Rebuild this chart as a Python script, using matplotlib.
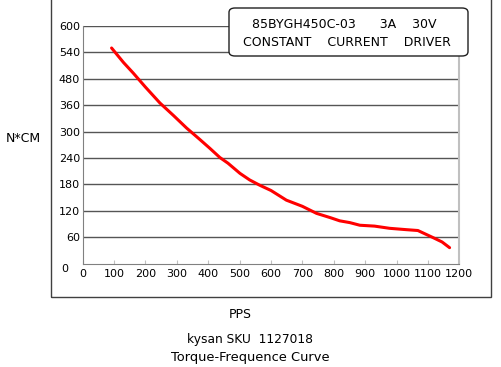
import matplotlib
matplotlib.use("Agg")
import matplotlib.pyplot as plt
from matplotlib.patches import Rectangle, FancyBboxPatch
from matplotlib.transforms import ScaledTranslation

# torque curve (in axis units, 60 per grid step)
pps = [92, 130, 161, 200, 246, 290, 331, 370, 405, 437, 463, 501, 532, 564,
       600, 649, 700, 745, 790, 819, 851, 883, 930, 978, 1030, 1068, 1095,
       1116, 1145, 1169]
torque = [490, 457, 433, 401, 365, 336, 308, 284, 262, 241, 228, 205, 190, 178,
          166, 144, 130, 114, 104, 97, 93, 87, 85, 80, 77, 75, 66,
          59, 49, 36]

x_ticks = [0, 100, 200, 300, 400, 500, 600, 700, 800, 900, 1000, 1100, 1200]
y_ticks = [0, 60, 120, 180, 240, 300, 360, 420, 480, 540]
# labels as printed on the original chart (it skips 420)
y_tick_labels = ["0", "60", "120", "180", "240", "300", "360", "480", "540", "600"]

legend_line1 = "85BYGH450C-03      3A    30V"
legend_line2 = "CONSTANT    CURRENT    DRIVER"

W, H = 502, 367
fig = plt.figure(figsize=(W / 100, H / 100), dpi=100)
fig.patch.set_facecolor("white")

def fx(px):
    return px / W

def fy(py):
    return 1 - py / H

# outer frame
fig.patches.append(Rectangle((fx(51), fy(297)), fx(491) - fx(51), fy(-5) - fy(297),
                             transform=fig.transFigure, fill=False,
                             edgecolor="#404040", lw=1.0))

ax = fig.add_axes([fx(82.7), fy(263.5), fx(459.3) - fx(82.7), fy(26) - fy(263.5)])
ax.set_xlim(0, 1200)
ax.set_ylim(0, 540)

for v in y_ticks[1:]:
    ax.axhline(v, color="#555555", lw=1.0, zorder=1)

ax.plot(pps, torque, color="#ff0000", lw=2.2, solid_capstyle="round", zorder=3)

ax.spines["top"].set_visible(False)
ax.spines["left"].set_color("#808080")
ax.spines["bottom"].set_color("#808080")
ax.spines["right"].set_color("#c0c0c0")
ax.spines["right"].set_linewidth(1.5)

ax.set_xticks(x_ticks)
ax.set_xticklabels([str(t) for t in x_ticks], fontsize=8)
ax.set_yticks(y_ticks)
ax.set_yticklabels(y_tick_labels, fontsize=8)
ax.tick_params(axis="y", length=0, pad=2)
ax.tick_params(axis="x", direction="in", length=3, color="#c0c0c0", pad=4)

# the "0" sits lower and further left on the original
lab0 = ax.get_yticklabels()[0]
lab0.set_transform(lab0.get_transform() + ScaledTranslation(-0.12, -0.05, fig.dpi_scale_trans))

fig.patches.append(FancyBboxPatch((fx(229), fy(56)), fx(468) - fx(229), fy(8) - fy(56),
                                  boxstyle="round,pad=0,rounding_size=0.012",
                                  transform=fig.transFigure, facecolor="white",
                                  edgecolor="#202020", lw=1.0, zorder=5))
fig.text(fx(252), fy(25), legend_line1, fontsize=9, va="center", ha="left", zorder=6)
fig.text(fx(243), fy(42), legend_line2, fontsize=9, va="center", ha="left", zorder=6)

fig.text(fx(23), fy(138), "N*CM", fontsize=9, ha="center", va="center")
fig.text(fx(240), fy(314), "PPS", fontsize=9, ha="center", va="center")
fig.text(fx(250), fy(340), "kysan SKU  1127018", fontsize=8.8, ha="center", va="center")
fig.text(fx(250), fy(358), "Torque-Frequence Curve", fontsize=9.4, ha="center", va="center")

fig.savefig("out.png", dpi=100)
